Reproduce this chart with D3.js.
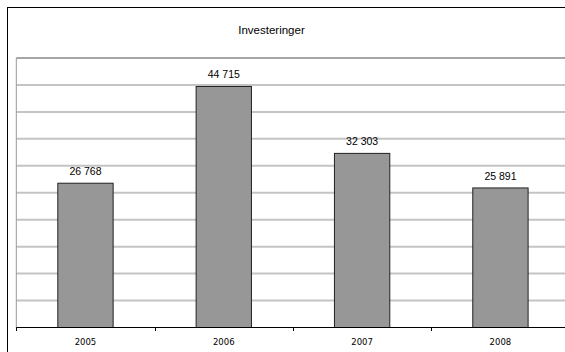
<!DOCTYPE html>
<html>
<head>
<meta charset="utf-8">
<script src="https://cdn.jsdelivr.net/npm/d3@7"></script>
<style>
  html, body { margin: 0; padding: 0; background: #fff; }
  svg { display: block; }
</style>
</head>
<body>
<svg id="chart" width="565" height="352"></svg>
<script>
// Investment totals per year
const years = ["2005", "2006", "2007", "2008"];
const values = [26768, 44715, 32303, 25891];
const yTicks = [0, 5000, 10000, 15000, 20000, 25000, 30000, 35000, 40000, 45000, 50000];
const title = "Investeringer";

const svg = d3.select("#chart");
const W = 565, H = 352;

// chart frame (runs past the right and bottom edges of the page)
svg.append("rect")
  .attr("x", 7.5).attr("y", 7.5)
  .attr("width", 620).attr("height", 400)
  .attr("fill", "#fff").attr("stroke", "#000").attr("stroke-width", 1);

const plot = { left: 16.3, right: 569.6, top: 58, bottom: 327.5 };

const x = d3.scaleBand().domain(years).range([plot.left, plot.right]).padding(0);
const y = d3.scaleLinear().domain([0, 50000]).range([plot.bottom, plot.top]);

// horizontal gridlines
svg.append("g")
  .selectAll("line")
  .data(yTicks.filter(t => t > 0 && t < 50000))
  .join("line")
  .attr("x1", plot.left).attr("x2", plot.right)
  .attr("y1", d => y(d)).attr("y2", d => y(d))
  .attr("stroke", "#c4c4c4").attr("stroke-width", 2);

// plot area top and left edges
svg.append("line")
  .attr("x1", plot.left).attr("x2", plot.right)
  .attr("y1", y(50000)).attr("y2", y(50000))
  .attr("stroke", "#a6a6a6").attr("stroke-width", 2);
svg.append("line")
  .attr("x1", plot.left).attr("x2", plot.left)
  .attr("y1", plot.top).attr("y2", plot.bottom)
  .attr("stroke", "#999").attr("stroke-width", 1);

// bars
const barW = x.step() * 0.4;
svg.append("g")
  .selectAll("rect")
  .data(years.map((yr, i) => ({ yr, v: values[i] })))
  .join("rect")
  .attr("x", d => x(d.yr) + (x.step() - barW) / 2)
  .attr("y", d => y(d.v))
  .attr("width", barW)
  .attr("height", d => y(0) - y(d.v))
  .attr("fill", "#979797")
  .attr("stroke", "#222").attr("stroke-width", 1);

// value labels with a space as thousands separator
const fmt = v => d3.format(",")(v).replace(/,/g, " ");
svg.append("g")
  .selectAll("text")
  .data(years.map((yr, i) => ({ yr, v: values[i] })))
  .join("text")
  .attr("x", d => x(d.yr) + x.step() / 2)
  .attr("y", d => y(d.v) - 8)
  .attr("text-anchor", "middle")
  .attr("font-family", "'Liberation Sans', Arial, sans-serif")
  .attr("font-size", 10.5)
  .attr("fill", "#000")
  .text(d => fmt(d.v));

// category axis: ticks at band boundaries
const axisG = svg.append("g");
axisG.append("line")
  .attr("x1", plot.left).attr("x2", plot.right)
  .attr("y1", plot.bottom).attr("y2", plot.bottom)
  .attr("stroke", "#000").attr("stroke-width", 1);
const bounds = years.map(d => x(d)).concat([x(years[years.length - 1]) + x.step()]);
axisG.selectAll("line.tick")
  .data(bounds)
  .join("line")
  .attr("class", "tick")
  .attr("x1", d => Math.round(d) + 0.5).attr("x2", d => Math.round(d) + 0.5)
  .attr("y1", plot.bottom).attr("y2", plot.bottom + 3.5)
  .attr("stroke", "#000").attr("stroke-width", 1);
axisG.selectAll("text")
  .data(years)
  .join("text")
  .attr("x", d => x(d) + x.step() / 2)
  .attr("y", 344.5)
  .attr("text-anchor", "middle")
  .attr("font-family", "'DejaVu Sans', Verdana, sans-serif")
  .attr("font-size", 8.5)
  .attr("fill", "#000")
  .text(d => d);

// title
svg.append("text")
  .attr("x", 271.5).attr("y", 33.5)
  .attr("text-anchor", "middle")
  .attr("font-family", "'Liberation Sans', Arial, sans-serif")
  .attr("font-size", 11.5)
  .attr("fill", "#000")
  .text(title);
</script>
</body>
</html>
